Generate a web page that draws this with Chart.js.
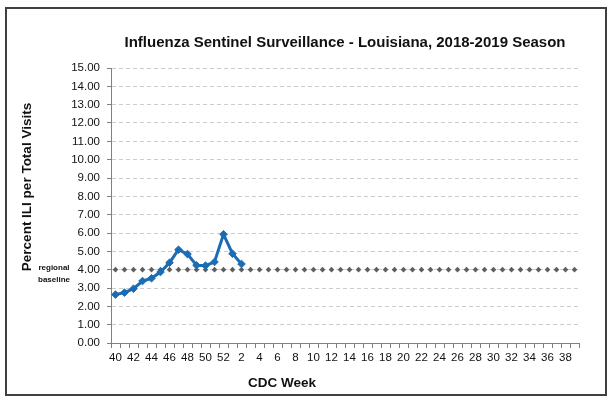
<!DOCTYPE html>
<html>
<head>
<meta charset="utf-8">
<script src="https://cdn.jsdelivr.net/npm/chart.js@4.4.1/dist/chart.umd.min.js"></script>
<style>
  html, body { margin: 0; padding: 0; background: #fff; }
  #wrap { position: relative; width: 614px; height: 406px; }
  #frame { position: absolute; left: 5px; top: 7px; width: 598px; height: 385px;
           border: 2px solid #404040; pointer-events: none; }
</style>
</head>
<body>
<div id="wrap">
  <canvas id="ili-chart" width="614" height="406"></canvas>
  <div id="frame"></div>
</div>
<script>
// CDC weeks of the 2018-2019 season
const weeks = [40, 41, 42, 43, 44, 45, 46, 47, 48, 49, 50, 51, 52,
  1, 2, 3, 4, 5, 6, 7, 8, 9, 10, 11, 12, 13, 14, 15, 16, 17, 18, 19, 20,
  21, 22, 23, 24, 25, 26, 27, 28, 29, 30, 31, 32, 33, 34, 35, 36, 37, 38, 39];

// Percent ILI, reported weeks only
const iliPercent = [2.64, 2.75, 2.96, 3.38, 3.53, 3.87, 4.38, 5.09, 4.85, 4.24,
  4.22, 4.42, 5.93, 4.87, 4.31];

const baselineValue = 4.0;
const baseline = weeks.map(() => baselineValue);

const yMin = 0;
const yMax = 15;
const yStep = 1;

const chartTitle = 'Influenza Sentinel Surveillance - Louisiana, 2018-2019 Season';
const yTitle = 'Percent ILI per Total Visits';
const xTitle = 'CDC Week';
const baselineLabel = ['regional', 'baseline'];

// axis titles and the baseline note are placed like the original Excel chart
const textPlugin = {
  id: 'extraText',
  afterDraw(chart) {
    const ctx = chart.ctx;
    const y = chart.scales.y;
    ctx.save();
    ctx.fillStyle = '#111';
    ctx.textAlign = 'center';
    ctx.textBaseline = 'middle';

    ctx.font = 'bold 13.5px "Liberation Sans", Arial, sans-serif';
    ctx.fillText(xTitle, 282, 383);

    ctx.translate(27, 187);
    ctx.rotate(-Math.PI / 2);
    ctx.fillText(yTitle, 0, 0);
    ctx.restore();

    ctx.save();
    ctx.fillStyle = '#111';
    ctx.textAlign = 'center';
    ctx.textBaseline = 'middle';
    ctx.font = 'bold 8px "Liberation Sans", Arial, sans-serif';
    const by = y.getPixelForValue(baselineValue);
    ctx.fillText(baselineLabel[0], 54, by - 2);
    ctx.fillText(baselineLabel[1], 54, by + 10);
    ctx.restore();
  }
};

const ctx = document.getElementById('ili-chart').getContext('2d');
new Chart(ctx, {
  type: 'line',
  data: {
    labels: weeks,
    datasets: [{
      label: 'Percent ILI',
      data: iliPercent,
      borderColor: '#1a6cb5',
      backgroundColor: '#1a6cb5',
      borderWidth: 3,
      pointStyle: 'rectRot',
      pointRadius: 3.8,
      pointBorderWidth: 1,
      tension: 0,
      spanGaps: false
    }, {
      label: 'regional baseline',
      data: baseline,
      showLine: false,
      borderColor: '#5e5e5e',
      backgroundColor: '#5e5e5e',
      pointStyle: 'rectRot',
      pointRadius: 2.8,
      pointBorderWidth: 0
    }]
  },
  options: {
    responsive: false,
    animation: false,
    layout: { padding: { left: 0, right: 35, top: 0, bottom: 12 } },
    plugins: {
      legend: { display: false },
      tooltip: { enabled: false },
      title: {
        display: true,
        text: chartTitle,
        fullSize: false,
        color: '#111',
        font: { family: '"Liberation Sans", Arial, sans-serif', size: 15, weight: 'bold' },
        padding: { top: 34, bottom: 16 }
      }
    },
    scales: {
      x: {
        offset: true,
        afterFit: (scale) => { scale.height = 51; },
        grid: {
          offset: true,
          drawOnChartArea: false,
          drawTicks: true,
          tickLength: 5,
          tickColor: '#808080',
          tickWidth: 1
        },
        border: { color: '#808080', width: 1 },
        ticks: {
          autoSkip: false,
          maxRotation: 0,
          minRotation: 0,
          padding: 3,
          color: '#111',
          font: { family: '"Liberation Sans", Arial, sans-serif', size: 11.5 },
          callback: function (value, index) {
            return index % 2 === 0 ? this.getLabelForValue(value) : '';
          }
        }
      },
      y: {
        min: yMin,
        max: yMax,
        afterFit: (scale) => { scale.width = 111; },
        grid: {
          color: '#cccccc',
          lineWidth: 1,
          drawTicks: true,
          tickLength: 4,
          tickColor: '#808080',
          tickBorderDash: []
        },
        border: { color: '#808080', width: 1, dash: [4, 3] },
        ticks: {
          stepSize: yStep,
          padding: 7,
          color: '#111',
          font: { family: '"Liberation Sans", Arial, sans-serif', size: 11.5 },
          callback: (v) => v.toFixed(2)
        }
      }
    }
  },
  plugins: [textPlugin]
});
</script>
</body>
</html>
